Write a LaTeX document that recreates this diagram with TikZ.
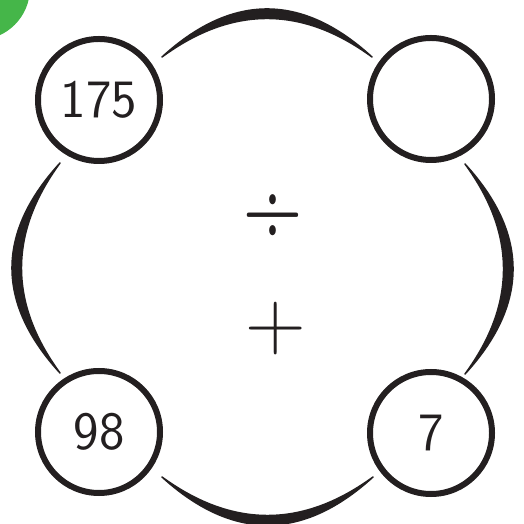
\documentclass[tikz,border=0pt]{standalone}
\usepackage{graphicx}
\usetikzlibrary{calc}
\definecolor{Leaf}{HTML}{45B649}
\definecolor{Ink}{HTML}{231F20}
\begin{document}
\begin{tikzpicture}[x=1pt, y=1pt,
  ring/.style={circle, draw=Ink, line width=6pt, minimum size=122pt, inner sep=0pt,
    font=\fontsize{54}{54}\selectfont\sffamily, text=Ink},
  rim/.style={fill=Ink, draw=Ink, line width=1.5pt, line join=round},
  sign/.style={inner sep=0pt, anchor=base, text=Ink}]
  \useasboundingbox (0,0) rectangle (523,524);
  \fill[Leaf] (-22,536) circle (52);
  \node[ring] (tl) at (99,424) {175};
  \node[ring] (tr) at (431,425) {};
  \node[ring] (bl) at (99,92) {98};
  \node[ring] (br) at (431,91) {7};
  % ends of the four rim pieces
  \coordinate (tA) at ($(tl)+(63,43)$);
  \coordinate (tB) at ($(tr)+(-59,42)$);
  \coordinate (lA) at ($(tl)+(-39,-63)$);
  \coordinate (lB) at ($(bl)+(-39,59)$);
  \coordinate (rA) at ($(tr)+(34,-65)$);
  \coordinate (rB) at ($(br)+(34,59)$);
  \coordinate (bA) at ($(bl)+(63,-45)$);
  \coordinate (bB) at ($(br)+(-58,-44)$);
  \foreach \a/\b/\dx/\dy in {tA/tB/0/1, lA/lB/-1/0, rA/rB/1/0, bA/bB/0/-1} {
    \coordinate (mo) at ($(\a)!0.5!(\b)+(\dx*96,\dy*96)$);
    \coordinate (mi) at ($(\a)!0.5!(\b)+(\dx*77,\dy*77)$);
    \fill[rim] (\a) .. controls ($(\a)!0.667!(mo)$) and ($(\b)!0.667!(mo)$) .. (\b)
      .. controls ($(\b)!0.667!(mi)$) and ($(\a)!0.667!(mi)$) .. cycle;
  }
  \node[sign, font=\fontsize{78}{78}\selectfont] (dv) at (273,277.6) {\scalebox{1.05}[1.6]{÷}};
  \node[sign, font=\fontsize{84}{84}\selectfont] (pl) at (276,174.5) {+};
\end{tikzpicture}
\end{document}
